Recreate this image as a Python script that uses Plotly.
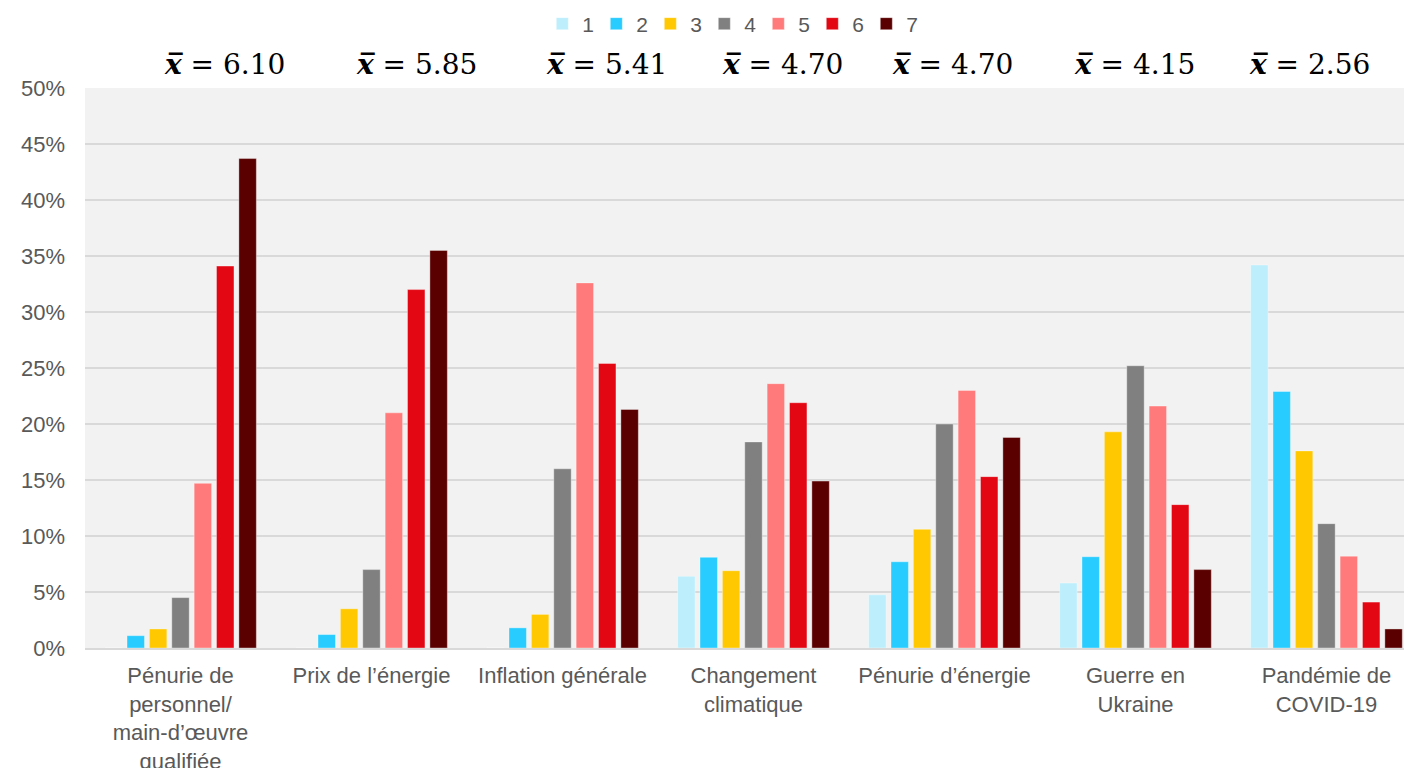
import plotly.graph_objects as go

categories = ["Pénurie de<br>personnel/<br>main-d’œuvre<br>qualifiée", "Prix de l’énergie",
              "Inflation générale", "Changement<br>climatique", "Pénurie d’énergie",
              "Guerre en<br>Ukraine", "Pandémie de<br>COVID-19"]
means = ["6.10", "5.85", "5.41", "4.70", "4.70", "4.15", "2.56"]
series_names = ["1", "2", "3", "4", "5", "6", "7"]
colors = ["#bdeefc", "#29ccff", "#ffc800", "#808080", "#ff7a7a", "#e30613", "#5a0000"]

s1 = [0.0, 0.0, 0.0, 6.4, 4.75, 5.8, 34.2]
s2 = [1.1, 1.2, 1.8, 8.1, 7.7, 8.15, 22.9]
s3 = [1.7, 3.5, 3.0, 6.9, 10.6, 19.3, 17.6]
s4 = [4.5, 7.0, 16.0, 18.4, 20.0, 25.2, 11.1]
s5 = [14.7, 21.0, 32.6, 23.6, 23.0, 21.6, 8.2]
s6 = [34.1, 32.0, 25.4, 21.9, 15.3, 12.8, 4.1]
s7 = [43.7, 35.5, 21.3, 14.9, 18.8, 7.0, 1.7]
values = [s1, s2, s3, s4, s5, s6, s7]

fig = go.Figure()
for name, col, vals in zip(series_names, colors, values):
    fig.add_trace(go.Bar(
        x=list(range(len(categories))), y=[v / 100 for v in vals], name=name,
        marker=dict(color=col, line=dict(width=0.6, color="rgba(255,255,255,0.6)")),
    ))

ann_shift = [0.23, 0.235, 0.23, 0.15, 0.04, -0.005, -0.09]
for i, m in enumerate(means):
    fig.add_annotation(
        x=i + ann_shift[i], y=1.0, xref="x", yref="paper", yanchor="bottom", yshift=5,
        text="<b><i>x\u0305</i></b> = " + m, showarrow=False,
        font=dict(family="DejaVu Serif", size=28, color="#000000"),
    )

fig.update_layout(
    width=1396, height=760,
    margin=dict(l=77, r=0, t=80, b=120),
    paper_bgcolor="white", plot_bgcolor="#f2f2f2",
    barmode="group", bargap=0.18, bargroupgap=0.22,
    font=dict(family="Liberation Sans, Arial", size=21, color="#595959"),
    legend=dict(orientation="h", x=0.49, xanchor="center", xref="paper",
                y=1 - 16 / 760, yanchor="middle", yref="container",
                font=dict(size=21, color="#595959"), entrywidth=9, entrywidthmode="pixels",
                itemwidth=30, tracegroupgap=0),
    xaxis=dict(tickmode="array", tickvals=list(range(len(categories))), ticktext=categories,
               range=[-0.5, 6.406], showgrid=False, showline=True, linecolor="#d9d9d9",
               linewidth=1.5, ticks="", tickfont=dict(size=22, color="#595959"), zeroline=False,
               ticklabelstandoff=7, automargin=False),
    yaxis=dict(range=[0, 0.5], dtick=0.05, tickformat=".0%", showgrid=True,
               gridcolor="#d9d9d9", gridwidth=1.5, zeroline=False, showline=False,
               ticks="", ticklabelstandoff=19, tickfont=dict(size=22, color="#595959"),
               automargin=False),
)

fig.write_html("out.html")
